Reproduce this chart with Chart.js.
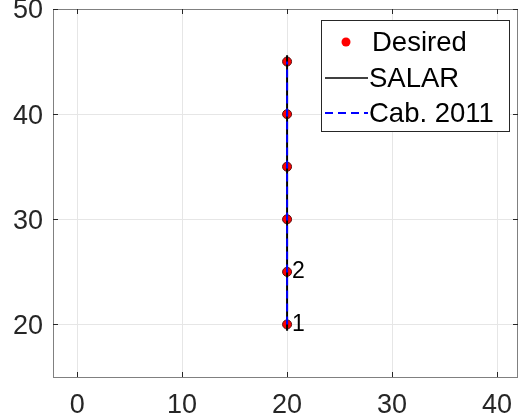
<!DOCTYPE html>
<html>
<head>
<meta charset="utf-8">
<script src="https://cdn.jsdelivr.net/npm/chart.js@4/dist/chart.umd.min.js"></script>
<style>
  html, body { margin: 0; padding: 0; background: #fff; }
  #wrap { width: 519px; height: 419px; }
</style>
</head>
<body>
<div id="wrap"><canvas id="myChart" width="519" height="419"></canvas></div>
<script>
// data
const desiredX = [20, 20, 20, 20, 20, 20];
const desiredY = [20, 25, 30, 35, 40, 45];
const pointLabels = ['1', '2'];
const salarX = [20, 20];
const salarY = [19.4, 45.6];
const cabX = [20, 20];
const cabY = [20, 45];
const xTicks = [0, 10, 20, 30, 40];
const yTicks = [20, 30, 40, 50];

const FONT = '"Liberation Sans", Arial, sans-serif';

function toPts(xs, ys) {
    return xs.map((x, i) => ({ x: x, y: ys[i] }));
}

// box, inward ticks, point labels and legend like matlab
const matlabBox = {
    id: 'matlabBox',
    afterDraw(chart) {
        const ctx = chart.ctx;
        const a = chart.chartArea;
        const xs = chart.scales.x, ys = chart.scales.y;
        ctx.save();

        // point labels
        ctx.fillStyle = '#000';
        ctx.font = '23px ' + FONT;
        ctx.textBaseline = 'middle';
        ctx.textAlign = 'left';
        pointLabels.forEach((t, i) => {
            const px = xs.getPixelForValue(desiredX[i]);
            const py = ys.getPixelForValue(desiredY[i]);
            ctx.fillText(t, px + 5, py);
        });

        // axes box
        ctx.strokeStyle = '#808080';
        ctx.lineWidth = 1;
        ctx.strokeRect(a.left + 0.5, a.top + 0.5, a.right - a.left - 1, a.bottom - a.top);
        ctx.strokeStyle = '#262626';
        ctx.beginPath();
        xTicks.forEach(v => {
            const px = Math.round(xs.getPixelForValue(v)) + 0.5;
            ctx.moveTo(px, a.bottom); ctx.lineTo(px, a.bottom - 5);
            ctx.moveTo(px, a.top); ctx.lineTo(px, a.top + 5);
        });
        yTicks.forEach(v => {
            const py = Math.round(ys.getPixelForValue(v)) + 0.5;
            ctx.moveTo(a.left, py); ctx.lineTo(a.left + 5, py);
            ctx.moveTo(a.right, py); ctx.lineTo(a.right - 5, py);
        });
        ctx.stroke();

        // legend
        const lx = 321.5, ly = 20.5, lw = 188, lh = 111;
        ctx.fillStyle = '#fff';
        ctx.fillRect(lx, ly, lw, lh);
        ctx.strokeStyle = '#262626';
        ctx.strokeRect(lx, ly, lw, lh);
        const rows = [42, 78, 113];
        ctx.font = '27.5px ' + FONT;
        ctx.fillStyle = '#000';
        ctx.textAlign = 'left';
        ctx.textBaseline = 'middle';

        ctx.beginPath();
        ctx.arc(346, rows[0], 4.5, 0, Math.PI * 2);
        ctx.fillStyle = '#ff0000';
        ctx.fill();
        ctx.fillStyle = '#000';
        ctx.fillText('Desired', 372, rows[0] + 1);

        ctx.lineWidth = 1.5;
        ctx.strokeStyle = '#000';
        ctx.beginPath();
        ctx.moveTo(325, rows[1]); ctx.lineTo(368, rows[1]);
        ctx.stroke();
        ctx.fillText('SALAR', 369, rows[1] + 1);

        ctx.lineWidth = 2;
        ctx.strokeStyle = '#0000ff';
        ctx.setLineDash([8, 5]);
        ctx.beginPath();
        ctx.moveTo(325, rows[2]); ctx.lineTo(368, rows[2]);
        ctx.stroke();
        ctx.setLineDash([]);
        ctx.fillText('Cab. 2011', 369, rows[2] + 1);

        ctx.restore();
    }
};

new Chart(document.getElementById('myChart'), {
    type: 'scatter',
    data: {
        datasets: [
            {
                label: 'Cab. 2011',
                data: toPts(cabX, cabY),
                showLine: true,
                borderColor: '#0000ff',
                borderWidth: 2,
                borderDash: [8, 5],
                pointRadius: 0,
                order: 0
            },
            {
                label: 'SALAR',
                data: toPts(salarX, salarY),
                showLine: true,
                borderColor: '#000000',
                borderWidth: 2,
                pointRadius: 0,
                order: 1
            },
            {
                label: 'Desired',
                data: toPts(desiredX, desiredY),
                showLine: false,
                backgroundColor: '#ff0000',
                borderColor: '#5a1010',
                borderWidth: 1,
                pointRadius: 4.5,
                order: 2
            }
        ]
    },
    options: {
        responsive: false,
        animation: false,
        layout: { autoPadding: false, padding: { top: 9, right: 1, left: 0, bottom: 0 } },
        plugins: {
            legend: { display: false },
            tooltip: { enabled: false }
        },
        scales: {
            x: {
                type: 'linear',
                min: -2.3,
                max: 42,
                afterFit: s => {
                    s.height = 42;
                    s.paddingLeft = 0; s.paddingRight = 0;
                    s.paddingTop = 0; s.paddingBottom = 0;
                },
                grid: { color: '#e6e6e6', drawTicks: false },
                border: { display: false },
                ticks: {
                    stepSize: 10,
                    includeBounds: false,
                    padding: 12,
                    color: '#262626',
                    font: { family: FONT, size: 27 },
                    maxRotation: 0
                }
            },
            y: {
                type: 'linear',
                min: 15,
                max: 50,
                afterFit: s => {
                    s.width = 53;
                    s.paddingLeft = 0; s.paddingRight = 0;
                    s.paddingTop = 0; s.paddingBottom = 0;
                },
                grid: { color: '#e6e6e6', drawTicks: false },
                border: { display: false },
                ticks: {
                    stepSize: 10,
                    includeBounds: false,
                    padding: 10,
                    labelOffset: 2,
                    color: '#262626',
                    font: { family: FONT, size: 27 }
                }
            }
        }
    },
    plugins: [matlabBox]
});
</script>
</body>
</html>
